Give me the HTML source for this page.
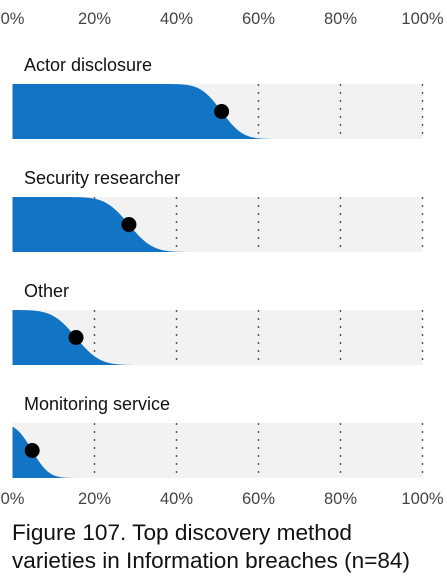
<!DOCTYPE html>
<html><head><meta charset="utf-8"><style>
body{margin:0;background:#fff;font-family:"Liberation Sans",sans-serif;}
svg{display:block}
</style></head><body>
<svg id="chart" width="447" height="583" xmlns="http://www.w3.org/2000/svg"></svg>
<script>
const categories = ["Actor disclosure","Security researcher","Other","Monitoring service"];
const pointValues = [51, 28.4, 15.5, 4.8];
const spreadValues = [4, 4.5, 4.5, 3.2];
const tickValues = [0,20,40,60,80,100];
const tickLabels = ["0%","20%","40%","60%","80%","100%"];

const NS="http://www.w3.org/2000/svg";
const svg=document.getElementById('chart');
const x0=12.5,x1=422.5;
const xs=v=>x0+(x1-x0)*v/100;
const bandTop=i=>84+113*i, bandH=55;
function mk(t,a){const e=document.createElementNS(NS,t);for(const k in a)e.setAttribute(k,a[k]);svg.appendChild(e);return e;}
function erf(x){const s=Math.sign(x);x=Math.abs(x);const t=1/(1+0.3275911*x);const y=1-(((((1.061405429*t-1.453152027)*t)+1.421413741)*t-0.284496736)*t+0.254829592)*t*Math.exp(-x*x);return s*y;}
const surv=(v,m,s)=>0.5*(1-erf((v-m)/(s*Math.SQRT2)));

tickValues.forEach((v,i)=>{
  [18,498].forEach((y,j)=>{
    const t=mk('text',{x:xs(v),y:y+6,'text-anchor':'middle','font-size':16.5,fill:'#444'});
    t.textContent=tickLabels[i];
    
    
  });
});

categories.forEach((c,i)=>{
  const top=bandTop(i);
  const lab=mk('text',{x:24,y:top-13,'font-size':18,fill:'#111'});
  lab.textContent=c;
  
  
  const bg=mk('rect',{x:x0,y:top,width:x1-x0,height:bandH,fill:'#f2f2f2'});
  
  
  tickValues.forEach(v=>{
    if(v===0)return;
    const l=mk('line',{x1:xs(v),x2:xs(v),y1:top,y2:top+bandH,stroke:'#555','stroke-width':1.4,'stroke-dasharray':'2,6'});
    
    
  });
  let d=`M${x0},${top+bandH}`;
  for(let v=0;v<=100;v+=0.25){
    const h=surv(v,pointValues[i],spreadValues[i]);
    d+=` L${xs(v).toFixed(2)},${(top+bandH-h*bandH).toFixed(2)}`;
  }
  d+=` L${x1},${top+bandH} Z`;
  const p=mk('path',{d:d,fill:'#1174c4'});
  
  
  const dot=mk('circle',{cx:xs(pointValues[i]),cy:top+bandH/2,r:7.5,fill:'#000'});
  
  
});

const capLens=[340,398];
["Figure 107. Top discovery method","varieties in Information breaches (n=84)"].forEach((s,i)=>{
  const t=mk('text',{x:12,y:540+28*i,'font-size':22,fill:'#111',textLength:capLens[i],lengthAdjust:'spacingAndGlyphs'});
  t.textContent=s;
  
  
});
</script>
</body></html>
